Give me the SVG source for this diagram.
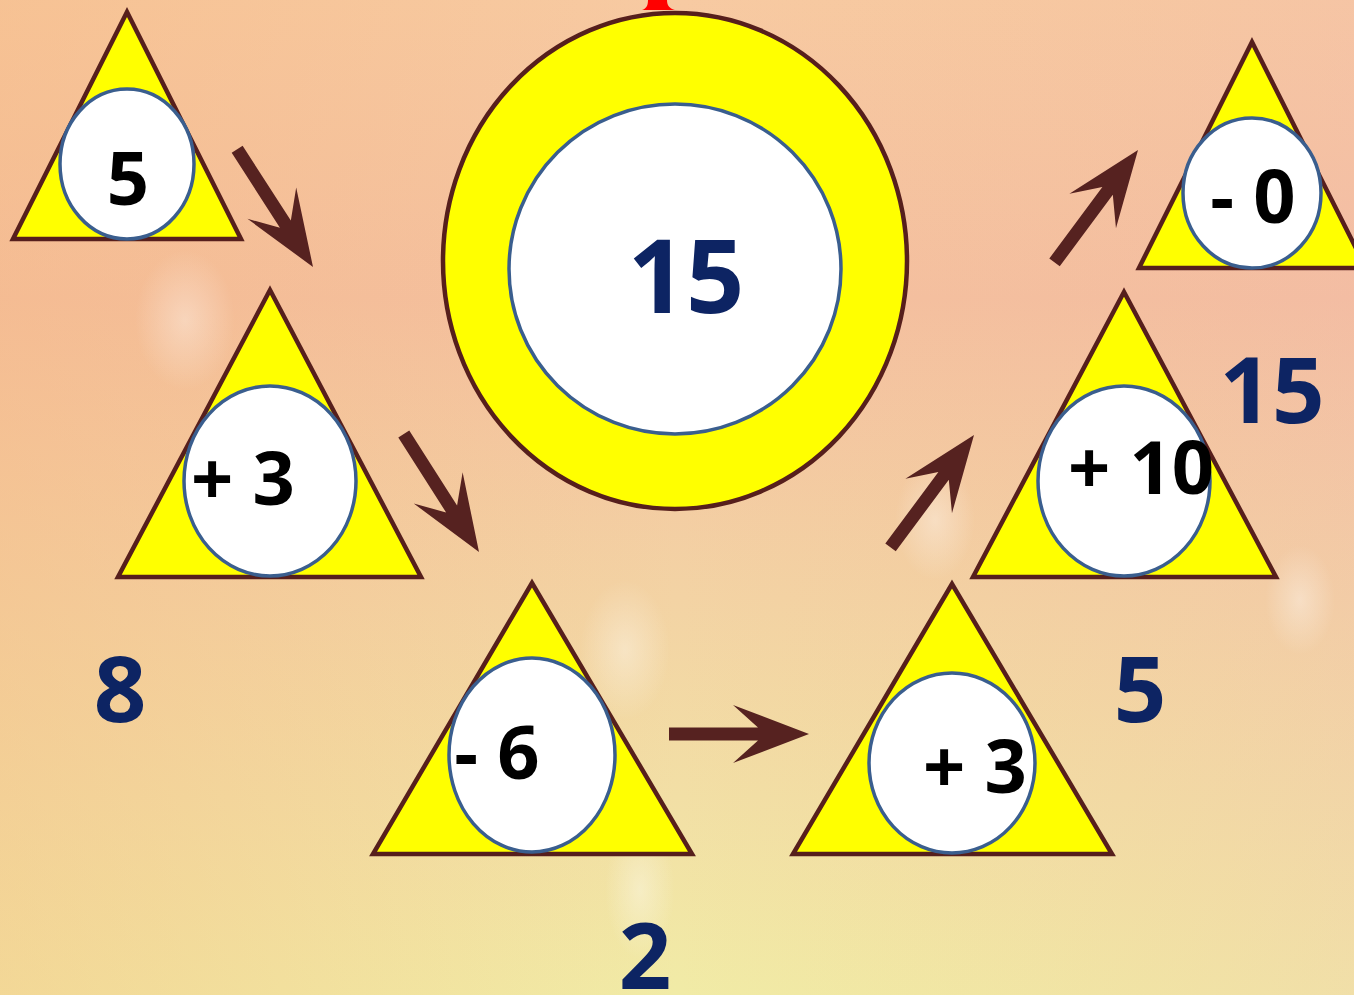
<svg xmlns="http://www.w3.org/2000/svg" xmlns:xlink="http://www.w3.org/1999/xlink" width="1354" height="995" viewBox="0 0 1354 995">
<style>
.tri{fill:#ffff00;stroke:#561f1c;stroke-width:4.5;stroke-linejoin:miter}
.ell{fill:#ffffff;stroke:#3a5e8e;stroke-width:3.5}
.op{font-family:"Open Sans","DejaVu Sans",sans-serif;font-weight:700;font-size:74px;fill:#000;text-anchor:middle}
.res{font-family:"Open Sans","DejaVu Sans",sans-serif;font-weight:700;font-size:92px;fill:#0d2463;text-anchor:middle}
.arr{fill:#562220}
</style>
<defs>
<linearGradient id="bg" x1="0" y1="0" x2="0" y2="1">
<stop offset="0" stop-color="#f7caa2"/>
<stop offset="0.3" stop-color="#f4c0a0"/>
<stop offset="0.6" stop-color="#f3d3a4"/>
<stop offset="1" stop-color="#f1eba6"/>
</linearGradient>
<linearGradient id="bgh" x1="0" y1="0" x2="1" y2="0">
<stop offset="0" stop-color="#f6b47a" stop-opacity="0.35"/>
<stop offset="0.5" stop-color="#f6b47a" stop-opacity="0"/>
<stop offset="1" stop-color="#f0b0b0" stop-opacity="0.2"/>
</linearGradient>
<radialGradient id="glow">
<stop offset="0" stop-color="#ffffff" stop-opacity="0.35"/>
<stop offset="1" stop-color="#ffffff" stop-opacity="0"/>
</radialGradient>
<path id="arrow" d="M-140,-6.5 L-51,-6.5 L-76,-29 L0,0 L-76,29 L-51,6.5 L-140,6.5 Z"/>
</defs>
<rect width="1354" height="995" fill="url(#bg)"/>
<rect width="1354" height="995" fill="url(#bgh)"/>
<ellipse cx="185" cy="320" rx="50" ry="70" fill="url(#glow)"/>
<ellipse cx="625" cy="650" rx="45" ry="70" fill="url(#glow)"/>
<ellipse cx="935" cy="520" rx="40" ry="60" fill="url(#glow)"/>
<ellipse cx="1300" cy="600" rx="35" ry="55" fill="url(#glow)"/>
<ellipse cx="640" cy="890" rx="35" ry="70" fill="url(#glow)"/>
<path d="M648,0 L667,0 C667,6 670,8.5 675,10 L642,10 C646,8.5 648,6 648,0 Z" fill="#ff0000"/>
<g id="center">
<ellipse cx="675" cy="261" rx="232" ry="248" fill="#ffff00" stroke="#561f1c" stroke-width="4.5"/>
<ellipse class="ell" cx="675" cy="269" rx="166" ry="165"/>
<text x="686" y="313" font-family="'Open Sans','DejaVu Sans',sans-serif" font-weight="700" font-size="102" fill="#0d2463" text-anchor="middle">15</text>
</g>
<g id="t1">
<polygon class="tri" points="127,12 13,239 241,239"/>
<ellipse class="ell" cx="127" cy="164" rx="67" ry="75"/>
<text class="op" x="128" y="205">5</text>
</g>
<g id="t2">
<polygon class="tri" points="270,290 118,577 421,577"/>
<ellipse class="ell" cx="270" cy="481" rx="86" ry="95"/>
<text class="op" x="243" y="505" font-size="70">+ 3</text>
</g>
<g id="t3">
<polygon class="tri" points="532,583 373,854 692,854"/>
<ellipse class="ell" cx="532" cy="755" rx="83" ry="97"/>
<text class="op" x="497" y="779">- 6</text>
</g>
<g id="t4">
<polygon class="tri" points="952,584 793,854 1112,854"/>
<ellipse class="ell" cx="952" cy="763" rx="83" ry="90"/>
<text class="op" x="975" y="793">+ 3</text>
</g>
<g id="t5">
<polygon class="tri" points="1124,292 973,577 1276,577"/>
<ellipse class="ell" cx="1124" cy="481" rx="86" ry="95"/>
<text class="op" x="1141" y="494">+ 10</text>
</g>
<g id="t6">
<polygon class="tri" points="1252,42 1139,268 1366,268"/>
<ellipse class="ell" cx="1252" cy="193" rx="69" ry="75"/>
<text class="op" x="1253" y="223">- 0</text>
</g>
<g id="r8"><text class="res" x="120" y="722">8</text></g>
<g id="r2"><text class="res" x="645" y="989">2</text></g>
<g id="r5"><text class="res" x="1140" y="722">5</text></g>
<g id="r15"><text class="res" x="1272" y="423">15</text></g>
<g id="connectors" class="arr">
<use xlink:href="#arrow" transform="translate(313,267) rotate(57.2)"/>
<use xlink:href="#arrow" transform="translate(479,552) rotate(57.5)"/>
<use xlink:href="#arrow" transform="translate(809,734)"/>
<use xlink:href="#arrow" transform="translate(974,435) rotate(-53.4)"/>
<use xlink:href="#arrow" transform="translate(1138,150) rotate(-53.4)"/>
</g>
</svg>
